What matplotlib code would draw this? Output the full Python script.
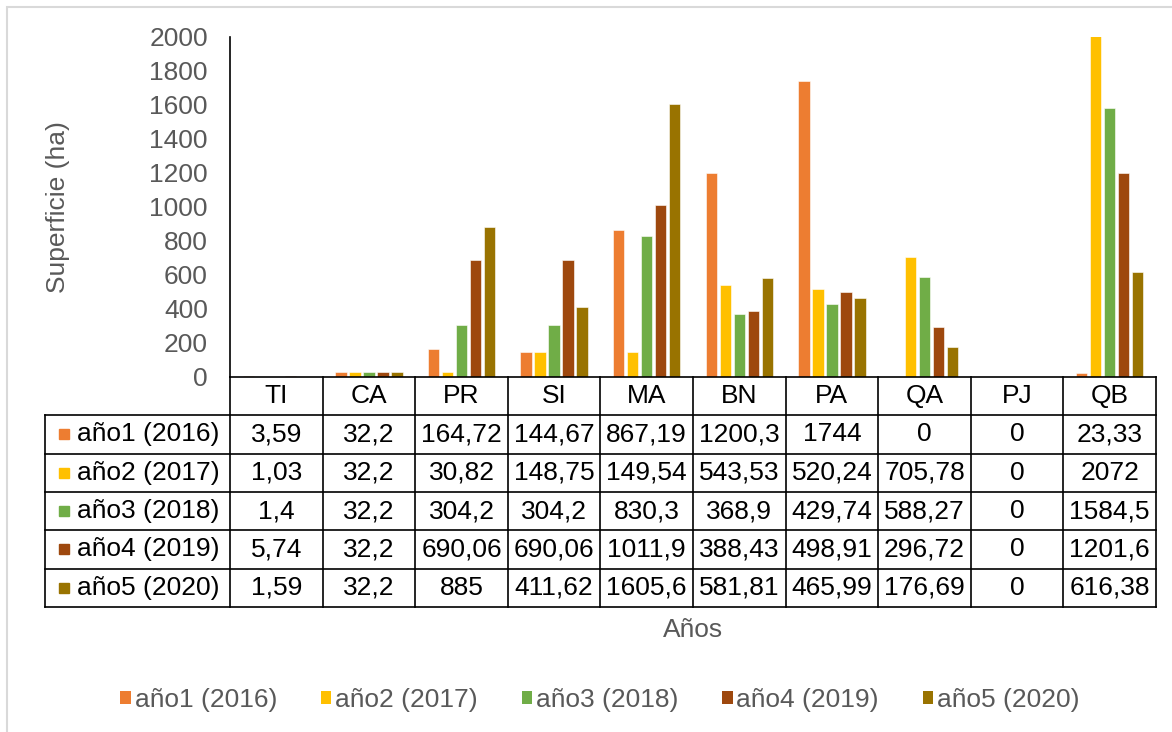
import matplotlib.pyplot as plt
import matplotlib.transforms as mtransforms
from matplotlib.patches import Patch, Rectangle

plt.rcParams['font.family'] = ['Liberation Sans', 'DejaVu Sans']

categories = ['TI', 'CA', 'PR', 'SI', 'MA', 'BN', 'PA', 'QA', 'PJ', 'QB']
series_names = ['año1 (2016)', 'año2 (2017)', 'año3 (2018)', 'año4 (2019)', 'año5 (2020)']
ano1 = [3.59, 32.2, 164.72, 144.67, 867.19, 1200.3, 1744, 0, 0, 23.33]
ano2 = [1.03, 32.2, 30.82, 148.75, 149.54, 543.53, 520.24, 705.78, 0, 2072]
ano3 = [1.4, 32.2, 304.2, 304.2, 830.3, 368.9, 429.74, 588.27, 0, 1584.5]
ano4 = [5.74, 32.2, 690.06, 690.06, 1011.9, 388.43, 498.91, 296.72, 0, 1201.6]
ano5 = [1.59, 32.2, 885, 411.62, 1605.6, 581.81, 465.99, 176.69, 0, 616.38]
series = [ano1, ano2, ano3, ano4, ano5]
colors = ['#ED7D31', '#FFC000', '#70AD47', '#9E480E', '#997300']
yticks = [0, 200, 400, 600, 800, 1000, 1200, 1400, 1600, 1800, 2000]

gray = '#595959'
fs = 19

fig = plt.figure(figsize=(11.72, 7.32), dpi=100)
# light chart border
fig.patches.append(Rectangle((7 / 1172, -0.01), 1.02, 1 - 7 / 732 + 0.01,
                             transform=fig.transFigure, fill=False,
                             edgecolor='#d9d9d9', lw=1.5))

ax = fig.add_axes([230 / 1172, 1 - 377 / 732, 926 / 1172, 340 / 732])

x = list(range(len(categories)))
step = 0.151
bw = 0.124
for k, (vals, c) in enumerate(zip(series, colors)):
    xs = [i + (k - 2) * step for i in x]
    ax.bar(xs, vals, width=bw, color=c, edgecolor='white', linewidth=0.4,
           label=series_names[k])

ax.set_xlim(-0.5, len(categories) - 0.5)
ax.set_ylim(0, 2000)
ax.set_yticks(yticks)
ax.set_yticklabels([str(t) for t in yticks])
ax.tick_params(axis='y', length=0, pad=16, labelsize=fs, labelcolor=gray)
ax.set_xticks([])
for s in ['top', 'right']:
    ax.spines[s].set_visible(False)
for s in ['left', 'bottom']:
    ax.spines[s].set_color('black')
    ax.spines[s].set_linewidth(1.2)
ax.set_ylabel('Superficie (ha)', fontsize=fs, color=gray, labelpad=57)

# data table under the axis
tr = mtransforms.blended_transform_factory(ax.transData, ax.transAxes)
h = 38.33 / 340
nrows = len(series)
bottom = -h * (nrows + 1)
lk = dict(color='black', lw=1.2, transform=tr, clip_on=False)

# verticals
for b in range(len(categories) + 1):
    ax.plot([b - 0.5, b - 0.5], [0, bottom], **lk)
ax.plot([-2.5, -2.5], [-h, bottom], **lk)
# horizontals
for r in range(1, nrows + 2):
    ax.plot([-2.5, len(categories) - 0.5], [-h * r, -h * r], **lk)

for i, cat in enumerate(categories):
    ax.text(i, -h / 2, cat, ha='center', va='center', fontsize=fs,
            transform=tr, clip_on=False)


def fmt(v):
    return f'{v:g}'.replace('.', ',')


for r, (vals, name, c) in enumerate(zip(series, series_names, colors)):
    yc = -h * (r + 1.5)
    ax.plot([-2.29], [yc], marker='s', ms=7.5, color=c, transform=tr, clip_on=False)
    ax.text(-2.15, yc, name, ha='left', va='center', fontsize=fs,
            transform=tr, clip_on=False)
    for i, v in enumerate(vals):
        ax.text(i, yc, fmt(v), ha='center', va='center', fontsize=fs,
                transform=tr, clip_on=False)

ax.text(0.5, (377 - 630) / 340, 'Años', transform=ax.transAxes, ha='center',
        va='center', fontsize=fs, color=gray)

handles = [Patch(facecolor=c) for c in colors]
leg = fig.legend(handles, series_names, loc='center', ncol=5,
                 bbox_to_anchor=(600 / 1172, 1 - 700 / 732), frameon=False,
                 fontsize=fs, handlelength=0.4, handleheight=0.4,
                 handletextpad=0.15, columnspacing=1.65)
for t in leg.get_texts():
    t.set_color(gray)

fig.savefig('out.png', dpi=100)
